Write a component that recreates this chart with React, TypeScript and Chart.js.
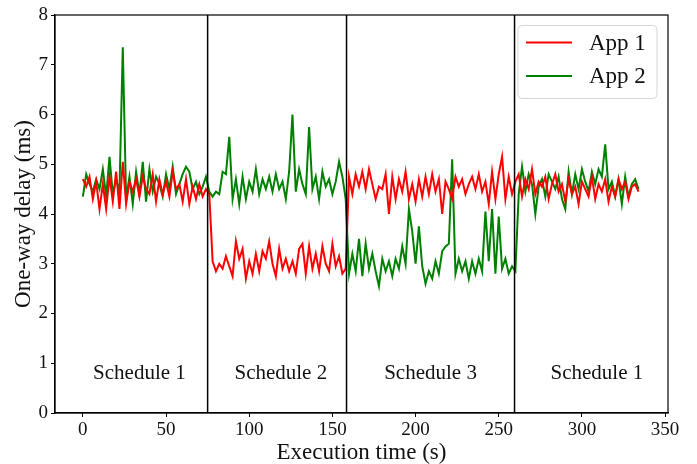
import React, { useEffect, useRef } from "react";
import { Chart, registerables } from "chart.js";

Chart.register(...registerables);

// sampling step of the measurements (seconds)
const STEP = 2;

// App 1 one-way delay (ms), one value every 2 s from t = 0
const app1: number[] = [
  4.7, 4.55, 4.75, 4.3, 4.65, 4.1, 4.6, 4.1, 4.75, 4.25, 4.85, 4.1, 5.05, 4.2, 4.65, 4.45, 4.7, 4.35, 4.75, 4.5,
  4.4, 4.8, 4.25, 4.7, 4.4, 4.65, 4.35, 4.85, 4.5, 4.6, 4.25, 4.7, 4.2, 4.55, 4.3, 4.6, 4.35, 4.5,
  4.4, 3.05, 2.85, 3.0, 2.9, 3.15, 2.95, 2.75, 3.45, 3.1, 3.3, 2.7, 3.05, 2.8, 3.2, 2.85, 3.25, 3.1, 3.45, 3.0,
  2.75, 3.3, 2.9, 3.1, 2.85, 3.05, 2.8, 3.3, 3.4, 2.8, 3.35, 2.9, 3.2, 2.85, 3.35, 3.0, 2.85, 3.4, 2.95, 3.15,
  2.8, 2.9,
  4.75, 4.4, 4.8, 4.55, 4.85, 4.5, 4.9, 4.6, 4.3, 4.55, 4.5, 4.8, 4.0, 4.75, 4.3, 4.7, 4.45, 4.85, 4.3, 4.6,
  4.25, 4.7, 4.35, 4.75, 4.4, 4.8, 4.45, 4.7, 4.0, 4.65, 4.5, 4.3, 4.75, 4.55, 4.7, 4.4, 4.6, 4.75, 4.5, 4.8,
  4.45, 4.65, 4.2, 4.85, 4.3, 4.8, 5.15, 4.3, 4.75, 4.4,
  4.65, 4.8, 4.35, 4.7, 4.5, 4.9, 4.4, 4.65, 4.55, 4.75, 4.3, 4.6, 4.8, 4.45, 4.6, 4.25, 4.7, 4.4, 4.55, 4.2,
  4.65, 4.5, 4.35, 4.75, 4.3, 4.6, 4.45, 4.7, 4.25, 4.55, 4.35, 4.7, 4.5, 4.65, 4.3, 4.55, 4.6, 4.45,
];

// App 2 one-way delay (ms), one value every 2 s from t = 0
const app2: number[] = [
  4.35, 4.8, 4.6, 4.45, 4.7, 4.5, 4.9, 4.35, 5.15, 4.4, 4.7, 4.45, 7.35, 4.3, 4.75, 4.2, 4.85, 4.4, 5.05, 4.25,
  4.9, 4.45, 4.75, 4.6, 4.35, 4.8, 4.5, 4.95, 4.4, 4.6, 4.8, 4.95, 4.85, 4.5, 4.65, 4.4, 4.55, 4.75,
  4.45, 4.35, 4.45, 4.4, 4.85, 4.8, 5.55, 4.3, 4.7, 4.2, 4.75, 4.3, 4.65, 4.45, 4.9, 4.4, 4.7, 4.5, 4.75, 4.45,
  4.8, 4.5, 4.65, 4.3, 4.85, 6.0, 4.45, 4.9, 4.6, 4.4, 5.75, 4.5, 4.75, 4.3, 4.85, 4.55, 4.7, 4.4, 4.65, 5.05,
  4.75, 4.3,
  2.8, 3.2, 2.85, 3.5, 2.75, 3.4, 2.9, 3.2, 2.85, 2.55, 3.1, 2.85, 3.05, 2.75, 3.1, 2.9, 3.35, 3.0, 4.1, 3.65,
  3.0, 3.75, 2.95, 2.6, 2.85, 2.7, 3.05, 2.8, 3.25, 3.35, 3.4, 5.1, 2.8, 3.1, 2.85, 3.05, 2.7, 3.05, 2.8, 3.1,
  2.85, 4.05, 3.05, 4.1, 2.8, 3.95, 2.9, 3.1, 2.8, 2.95,
  2.85, 4.4, 4.95, 4.45, 4.8, 4.6, 4.0, 4.55, 4.7, 4.35, 4.8, 4.65, 4.5, 4.75, 4.3, 4.1, 4.85, 4.4, 4.8, 4.5,
  4.9, 4.65, 4.45, 4.85, 4.6, 4.9, 4.75, 5.4, 4.5, 4.65, 4.35, 4.7, 4.2, 4.75, 4.35, 4.6, 4.7, 4.5,
];

const times: number[] = app1.map((_, i) => i * STEP);

const xTicks = [0, 50, 100, 150, 200, 250, 300, 350];
const yTicks = [0, 1, 2, 3, 4, 5, 6, 7, 8];
const xMin = -16.75;
const xMax = 351.75;
const yMin = 0;
const yMax = 8;

// schedule change instants (s)
const boundaries = [75, 158.5, 259.5];
const scheduleNames = ["Schedule 1", "Schedule 2", "Schedule 3", "Schedule 1"];
const scheduleX = [34, 119, 209, 309];
const scheduleY = 0.69;

const seriesLabels = ["App 1", "App 2"];
const seriesColors = ["#ff0000", "#008000"];

const FONT = "'Liberation Serif', 'Times New Roman', serif";

const overlay = {
  id: "overlay",
  afterDatasetsDraw(chart: any) {
    const { ctx, chartArea, scales } = chart;
    const xs = scales.x;
    const ys = scales.y;
    ctx.save();
    // schedule boundaries
    ctx.strokeStyle = "#000";
    ctx.lineWidth = 1.5;
    boundaries.forEach((b) => {
      const px = xs.getPixelForValue(b);
      ctx.beginPath();
      ctx.moveTo(px, chartArea.top);
      ctx.lineTo(px, chartArea.bottom);
      ctx.stroke();
    });
    // frame
    ctx.lineWidth = 1.2;
    ctx.strokeRect(chartArea.left, chartArea.top, chartArea.right - chartArea.left, chartArea.bottom - chartArea.top);
    // schedule labels
    ctx.fillStyle = "#111";
    ctx.font = `21px ${FONT}`;
    ctx.textAlign = "center";
    ctx.textBaseline = "alphabetic";
    scheduleNames.forEach((n, i) => {
      ctx.fillText(n, xs.getPixelForValue(scheduleX[i]), ys.getPixelForValue(scheduleY));
    });
    // legend
    const bw = 139;
    const bh = 73;
    const bx = chartArea.right - 150;
    const by = chartArea.top + 10.5;
    ctx.beginPath();
    const r = 4;
    ctx.moveTo(bx + r, by);
    ctx.arcTo(bx + bw, by, bx + bw, by + bh, r);
    ctx.arcTo(bx + bw, by + bh, bx, by + bh, r);
    ctx.arcTo(bx, by + bh, bx, by, r);
    ctx.arcTo(bx, by, bx + bw, by, r);
    ctx.closePath();
    ctx.fillStyle = "rgba(255,255,255,0.8)";
    ctx.fill();
    ctx.strokeStyle = "#d6d6d6";
    ctx.lineWidth = 1;
    ctx.stroke();
    ctx.font = `23px ${FONT}`;
    ctx.textAlign = "left";
    ctx.textBaseline = "middle";
    chart.data.datasets.forEach((ds: any, i: number) => {
      const yy = by + 17 + i * 33.5;
      ctx.strokeStyle = ds.borderColor;
      ctx.lineWidth = 2;
      ctx.beginPath();
      ctx.moveTo(bx + 8, yy);
      ctx.lineTo(bx + 54, yy);
      ctx.stroke();
      ctx.fillStyle = "#111";
      ctx.fillText(ds.label, bx + 71, yy + 1);
    });
    ctx.restore();
  },
};

export default function App() {
  const ref = useRef<HTMLCanvasElement | null>(null);
  useEffect(() => {
    if (!ref.current) return;
    const datasets = [app1, app2].map((arr, k) => ({
      label: seriesLabels[k],
      data: arr.map((v, i) => ({ x: times[i], y: v })),
      borderColor: seriesColors[k],
      backgroundColor: seriesColors[k],
      borderWidth: 2,
      pointRadius: 0,
      tension: 0,
      fill: false,
    }));
    const chart = new Chart(ref.current, {
      type: "line",
      data: { datasets },
      options: {
        animation: false,
        responsive: false,
        maintainAspectRatio: false,
        devicePixelRatio: 1,
        layout: { padding: { left: 0, top: 15, right: 29, bottom: 0 } },
        plugins: { legend: { display: false }, tooltip: { enabled: false } },
        scales: {
          x: {
            type: "linear",
            min: xMin,
            max: xMax,
            afterBuildTicks: (s: any) => {
              s.ticks = xTicks.map((v) => ({ value: v }));
            },
            afterFit: (s: any) => {
              s.height = 51;
            },
            grid: { drawOnChartArea: false, drawTicks: true, tickLength: 4, color: "#000", lineWidth: 1 },
            border: { display: true, color: "#000", width: 1.2 },
            ticks: {
              color: "#111",
              font: { family: FONT, size: 19 },
              padding: 2,
              maxRotation: 0,
              autoSkip: false,
              callback: (v: any) => String(v),
            },
            title: {
              display: true,
              text: "Execution time (s)",
              color: "#111",
              font: { family: FONT, size: 23, lineHeight: 1.0 },
              padding: { top: 0, bottom: 0 },
            },
          },
          y: {
            type: "linear",
            min: yMin,
            max: yMax,
            afterBuildTicks: (s: any) => {
              s.ticks = yTicks.map((v) => ({ value: v }));
            },
            afterFit: (s: any) => {
              s.width = 55;
            },
            grid: { drawOnChartArea: false, drawTicks: true, tickLength: 4, color: "#000", lineWidth: 1 },
            border: { display: true, color: "#000", width: 1.2 },
            ticks: {
              color: "#111",
              font: { family: FONT, size: 19 },
              padding: 3,
              callback: (v: any) => String(v),
            },
            title: {
              display: true,
              text: "One-way delay (ms)",
              color: "#111",
              font: { family: FONT, size: 23, lineHeight: 1.2 },
              padding: { top: 10, bottom: 0 },
            },
          },
        },
      },
      plugins: [overlay],
    });
    return () => chart.destroy();
  }, []);
  return (
    <div style={{ position: "fixed", left: 0, top: 0, width: 697, height: 464, background: "#fff" }}>
      <canvas ref={ref} width={697} height={464} style={{ width: 697, height: 464, display: "block" }} />
    </div>
  );
}
